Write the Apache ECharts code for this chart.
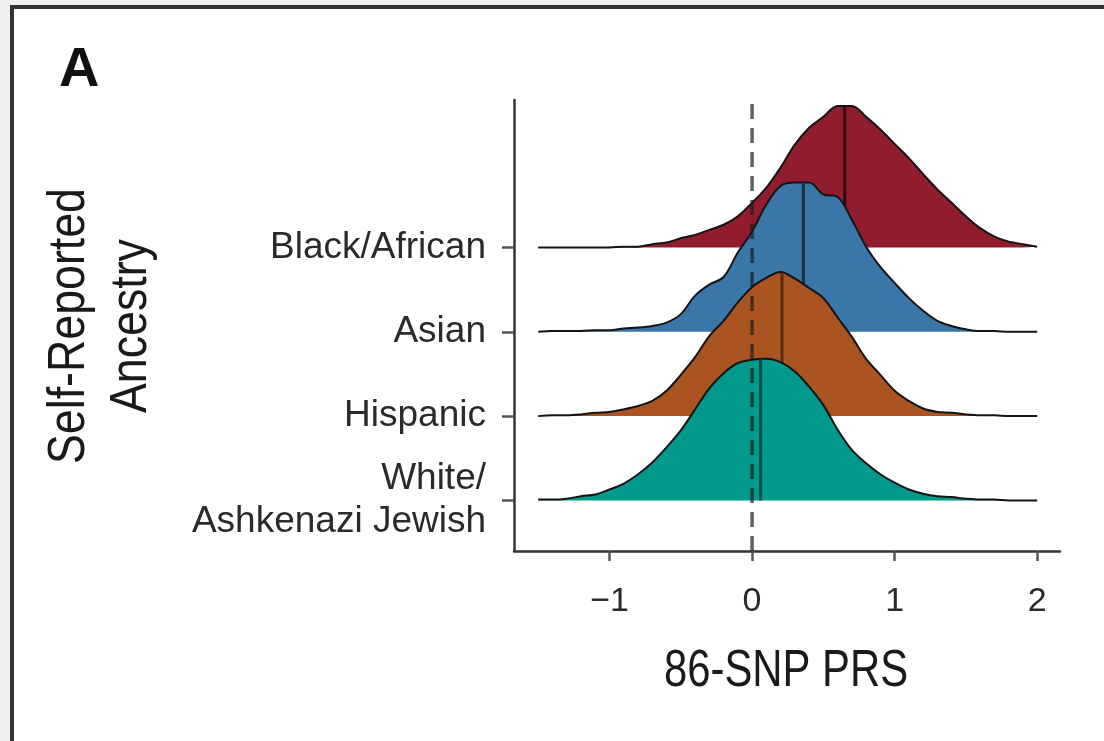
<!DOCTYPE html>
<html>
<head>
<meta charset="utf-8">
<script src="https://cdn.jsdelivr.net/npm/echarts@6/dist/echarts.min.js"></script>
<style>
  html, body { margin: 0; padding: 0; background: #ffffff; }
  #chart { width: 1104px; height: 741px; }
</style>
</head>
<body>
<div id="chart"></div>
<script>
// Ridgeline of 86-SNP PRS by self-reported ancestry.
// Each ridge sits on its own row; density heights are in row units.
var categories = ['White/\nAshkenazi Jewish', 'Hispanic', 'Asian', 'Black/African'];
var xGrid = [-1.5, -1.4, -1.3, -1.2, -1.1, -1.0, -0.9, -0.8, -0.7, -0.6, -0.5, -0.4,
             -0.3, -0.2, -0.1, 0.0, 0.1, 0.2, 0.3, 0.4, 0.5, 0.6, 0.7, 0.8,
             0.9, 1.0, 1.1, 1.2, 1.3, 1.4, 1.5, 1.6, 1.7, 1.8, 1.9, 2.0];
var densityWhite = [0.01, 0.01, 0.02, 0.05, 0.07, 0.13, 0.20, 0.31, 0.45, 0.63, 0.83, 1.08,
                    1.33, 1.51, 1.63, 1.67, 1.68, 1.64, 1.53, 1.35, 1.13, 0.84, 0.60, 0.44,
                    0.31, 0.21, 0.13, 0.08, 0.05, 0.04, 0.02, 0.01, 0.01, 0, 0, 0];
var densityHispanic = [0, 0.01, 0.01, 0.02, 0.04, 0.05, 0.08, 0.12, 0.18, 0.30, 0.49, 0.70,
                       0.95, 1.13, 1.35, 1.53, 1.64, 1.71, 1.63, 1.52, 1.40, 1.17, 0.94, 0.68,
                       0.49, 0.30, 0.18, 0.09, 0.05, 0.04, 0.02, 0.01, 0.01, 0, 0, 0];
var densityAsian = [0, 0.01, 0.01, 0.01, 0.02, 0.02, 0.04, 0.05, 0.07, 0.11, 0.21, 0.43,
                    0.56, 0.65, 0.94, 1.19, 1.51, 1.73, 1.77, 1.77, 1.63, 1.60, 1.33, 1.01,
                    0.77, 0.58, 0.40, 0.25, 0.13, 0.07, 0.03, 0.01, 0.01, 0, 0, 0];
var densityBlack = [0, 0, 0, 0, 0, 0, 0.01, 0.01, 0.04, 0.06, 0.11, 0.15,
                    0.21, 0.27, 0.37, 0.53, 0.71, 0.95, 1.22, 1.42, 1.55, 1.68, 1.68, 1.55,
                    1.40, 1.23, 1.06, 0.87, 0.69, 0.53, 0.37, 0.23, 0.13, 0.07, 0.04, 0.01];
var medians = [0.06, 0.21, 0.36, 0.65];
var xTicks = [-1, 0, 1, 2];

var densities = [densityWhite, densityHispanic, densityAsian, densityBlack];
var fillColors = ['#00998c', '#aa5422', '#3a76a8', '#911c2d'];
var medianColors = ['#0b4f48', '#5c2a10', '#1b2f46', '#2a0a10'];

function valueAt(arr, x) {
  for (var i = 0; i < xGrid.length - 1; i++) {
    if (x >= xGrid[i] && x <= xGrid[i + 1]) {
      var t = (x - xGrid[i]) / (xGrid[i + 1] - xGrid[i]);
      return arr[i] + t * (arr[i + 1] - arr[i]);
    }
  }
  return 0;
}

var series = [];
// back row first so lower ridges overlap the ones above
for (var k = categories.length - 1; k >= 0; k--) {
  var base = k + 1;
  var dens = densities[k];
  var pts = xGrid.map(function (x, i) { return [x, base + dens[i]]; });
  var order = categories.length - 1 - k;
  series.push({
    type: 'line',
    name: categories[k],
    data: pts,
    showSymbol: false,
    symbol: 'none',
    smooth: 0.35,
    z: 10 + order * 2,
    lineStyle: { color: '#141414', width: 2 },
    areaStyle: { color: fillColors[k], opacity: 1, origin: base },
    silent: true
  });
  var m = medians[k];
  series.push({
    type: 'line',
    data: [[m, base], [m, base + valueAt(dens, m)]],
    showSymbol: false,
    symbol: 'none',
    z: 11 + order * 2,
    lineStyle: { color: medianColors[k], width: 3 },
    silent: true
  });
}
// reference line at zero
series.push({
  type: 'line',
  data: [[0, 0.4], [0, 5.75]],
  showSymbol: false,
  symbol: 'none',
  z: 30,
  lineStyle: { color: 'rgba(30,30,30,0.7)', width: 3.5, type: [15, 9] },
  silent: true
});

var titleFont = '"Liberation Sans", Arial, sans-serif';

var chart = echarts.init(document.getElementById('chart'));
chart.setOption({
  backgroundColor: '#ffffff',
  animation: false,
  grid: { left: 514, right: 44, top: 100, bottom: 190 },
  xAxis: {
    type: 'value',
    min: -1.67,
    max: 2.16,
    axisLine: { show: true, onZero: false, lineStyle: { color: '#333333', width: 2.5 } },
    axisTick: { show: true, length: 10, customValues: xTicks, lineStyle: { color: '#555555', width: 2.5 } },
    axisLabel: {
      customValues: xTicks,
      margin: 34,
      fontFamily: titleFont,
      fontSize: 34,
      color: '#2a2a2a',
      formatter: function (v) { return v < 0 ? '\u2212' + Math.abs(v) : String(v); }
    },
    splitLine: { show: false }
  },
  yAxis: {
    type: 'value',
    min: 0.4,
    max: 5.75,
    axisLine: { show: true, onZero: false, lineStyle: { color: '#333333', width: 2.5 } },
    axisTick: { show: true, length: 12, customValues: [1, 2, 3, 4], lineStyle: { color: '#555555', width: 2.5 } },
    axisLabel: {
      customValues: [1, 2, 3, 4],
      margin: 28,
      fontFamily: titleFont,
      fontSize: 37,
      lineHeight: 43,
      color: '#2a2a2a',
      formatter: function (v) { return categories[Math.round(v) - 1] || ''; }
    },
    splitLine: { show: false }
  },
  graphic: [
    { type: 'rect', silent: true, shape: { x: 0, y: 0, width: 1104, height: 6 }, style: { fill: '#f0f0f0' } },
    { type: 'rect', silent: true, shape: { x: 0, y: 0, width: 11, height: 741 }, style: { fill: '#f0f0f0' } },
    { type: 'line', silent: true, shape: { x1: 12, y1: 5, x2: 12, y2: 741 }, style: { stroke: '#333333', lineWidth: 4 } },
    { type: 'line', silent: true, shape: { x1: 10, y1: 7, x2: 1104, y2: 7 }, style: { stroke: '#333333', lineWidth: 4 } },
    { type: 'text', silent: true, left: 59, top: 43,
      style: { text: 'A', font: 'bold 56px ' + titleFont, fill: '#111111' } },
    // axis titles, set in a narrowed face
    { type: 'text', silent: true, x: 786, y: 672, scaleX: 0.82,
      style: { text: '86-SNP PRS', font: '51px ' + titleFont, fill: '#1a1a1a', align: 'center', verticalAlign: 'middle' } },
    { type: 'text', silent: true, x: 101, y: 326, rotation: Math.PI / 2, scaleX: 0.86,
      style: { text: 'Self-Reported\nAncestry', font: '52px ' + titleFont, lineHeight: 62, fill: '#1a1a1a', align: 'center', verticalAlign: 'middle' } }
  ],
  series: series
});
</script>
</body>
</html>
